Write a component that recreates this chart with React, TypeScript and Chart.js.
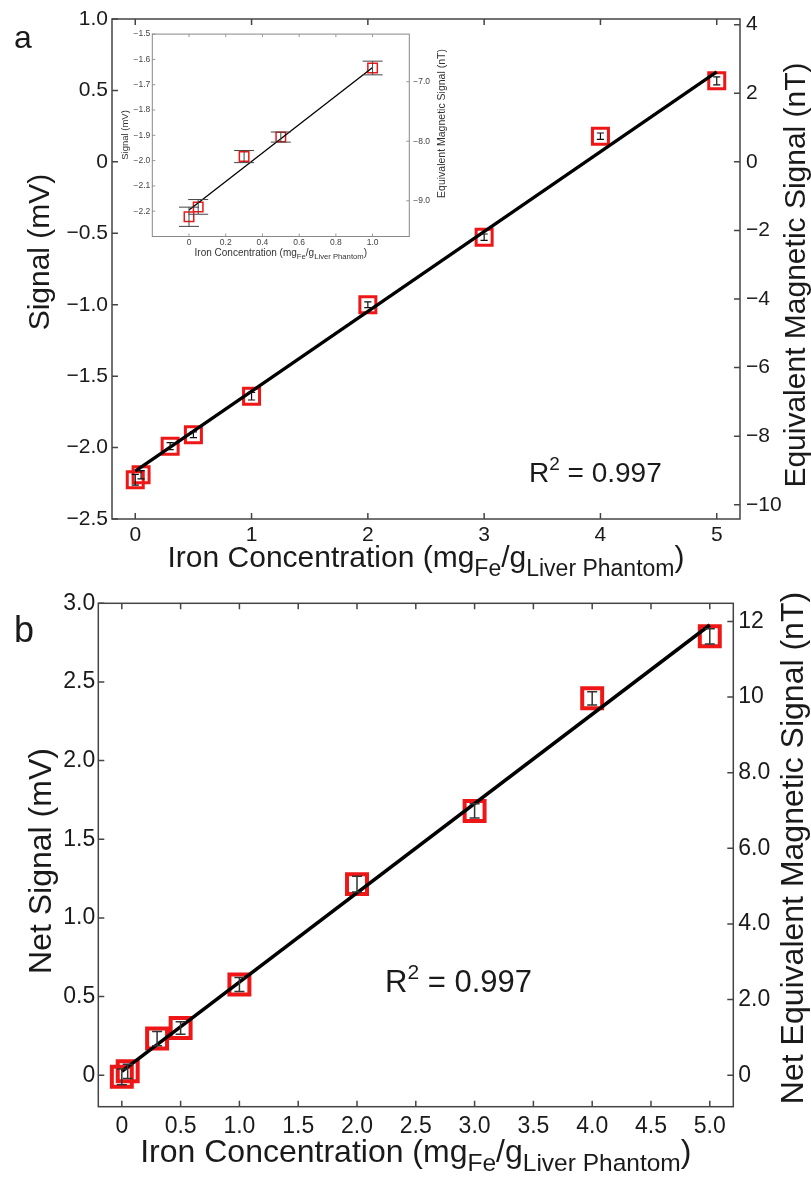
import React, { useEffect, useRef } from "react";
import { Chart, registerables } from "chart.js";
Chart.register(...registerables);

const FONT = '"Liberation Sans", Arial, Helvetica, sans-serif';
const RED = "rgb(238,22,22)";

// ---------- Panel a ----------
const ironA = [0, 0.05, 0.3, 0.5, 1, 2, 3, 4, 5];
const signalA = [-2.225, -2.19, -1.99, -1.91, -1.64, -1.0, -0.527, 0.18, 0.567];
const errA = [0.038, 0.029, 0.024, 0.02, 0.027, 0.02, 0.022, 0.022, 0.028];
const fitAX = [0, 5];
const fitAY = [-2.165, 0.63];
const aXTicks = [0, 1, 2, 3, 4, 5];
const aXLabels = ["0", "1", "2", "3", "4", "5"];
const aYTicks = [1.0, 0.5, 0, -0.5, -1.0, -1.5, -2.0, -2.5];
const aYLabels = ["1.0", "0.5", "0", "−0.5", "−1.0", "−1.5", "−2.0", "−2.5"];
const aY2Ticks = [4, 2, 0, -2, -4, -6, -8, -10];
const aY2Labels = ["4", "2", "0", "−2", "−4", "−6", "−8", "−10"];

// ---------- Inset ----------
const insetIron = [0, 0.05, 0.3, 0.5, 1.0];
const insetSignal = [-2.222, -2.183, -1.984, -1.907, -1.634];
const insetErr = [0.038, 0.029, 0.024, 0.02, 0.027];
const fitInsetX = [0, 1.0];
const fitInsetY = [-2.195, -1.632];
const insetXTicks = [0, 0.2, 0.4, 0.6, 0.8, 1.0];
const insetXLabels = ["0", "0.2", "0.4", "0.6", "0.8", "1.0"];
const insetYTicks = [-1.5, -1.6, -1.7, -1.8, -1.9, -2.0, -2.1, -2.2];
const insetYLabels = ["−1.5", "−1.6", "−1.7", "−1.8", "−1.9", "−2.0", "−2.1", "−2.2"];
const insetY2Ticks = [-7, -8, -9];
const insetY2Labels = ["−7.0", "−8.0", "−9.0"];

// ---------- Panel b ----------
const ironB = [0, 0.05, 0.3, 0.5, 1, 2, 3, 4, 5];
const netSignalB = [-0.01, 0.025, 0.233, 0.3, 0.577, 1.215, 1.68, 2.396, 2.79];
const errB = [0.05, 0.045, 0.045, 0.04, 0.045, 0.05, 0.045, 0.042, 0.048];
const fitBX = [0, 5];
const fitBY = [0.025, 2.862];
const bXTicks = [0, 0.5, 1.0, 1.5, 2.0, 2.5, 3.0, 3.5, 4.0, 4.5, 5.0];
const bXLabels = ["0", "0.5", "1.0", "1.5", "2.0", "2.5", "3.0", "3.5", "4.0", "4.5", "5.0"];
const bYTicks = [0, 0.5, 1.0, 1.5, 2.0, 2.5, 3.0];
const bYLabels = ["0", "0.5", "1.0", "1.5", "2.0", "2.5", "3.0"];
const bY2Ticks = [0, 2, 4, 6, 8, 10, 12];
const bY2Labels = ["0", "2.0", "4.0", "6.0", "8.0", "10", "12"];

type Part = { t: string; s: number; dy: number };

function drawRich(ctx: CanvasRenderingContext2D, parts: Part[], x: number, y: number, align: "center" | "left") {
  let w = 0;
  parts.forEach((p) => {
    ctx.font = `${p.s}px ${FONT}`;
    w += ctx.measureText(p.t).width;
  });
  let cx = align === "center" ? x - w / 2 : x;
  ctx.textAlign = "left";
  ctx.textBaseline = "alphabetic";
  parts.forEach((p) => {
    ctx.font = `${p.s}px ${FONT}`;
    ctx.fillText(p.t, cx, y + p.dy);
    cx += ctx.measureText(p.t).width;
  });
}

function drawVertical(ctx: CanvasRenderingContext2D, text: string, size: number, x: number, y: number) {
  ctx.save();
  ctx.translate(x, y);
  ctx.rotate(-Math.PI / 2);
  ctx.font = `${size}px ${FONT}`;
  ctx.textAlign = "center";
  ctx.textBaseline = "alphabetic";
  ctx.fillText(text, 0, 0);
  ctx.restore();
}

type Spec = {
  padTop: number; leftW: number; rightW: number; bottomH: number;
  xMin: number; xMax: number; xTicks: number[]; xLabels: string[];
  yMin: number; yMax: number; yTicks: number[]; yLabels: string[];
  y2Min: number; y2Max: number; y2Ticks: number[]; y2Labels: string[];
  tickFont: number; tickColor: string; padX: number; padY: number; padY2: number;
  xs: number[]; ys: number[]; err: number[]; fitX: number[]; fitY: number[];
  markerR: number; markerW: number; lineW: number;
  frameColor: string; frameW: number; tickLen: number; tickMarkColor: string;
  errColor: string; errW: number; capHalf: number;
  texts: (ctx: CanvasRenderingContext2D, chart: any) => void;
};

function makeConfig(s: Spec): any {
  const decor = {
    id: "decor",
    afterDatasetsDraw(chart: any) {
      const ctx = chart.ctx as CanvasRenderingContext2D;
      const xs = chart.scales.x, ys = chart.scales.y;
      ctx.save();
      ctx.strokeStyle = s.errColor;
      ctx.lineWidth = s.errW;
      s.xs.forEach((xv, i) => {
        const px = xs.getPixelForValue(xv);
        const top = ys.getPixelForValue(s.ys[i] + s.err[i]);
        const bot = ys.getPixelForValue(s.ys[i] - s.err[i]);
        ctx.beginPath();
        ctx.moveTo(px, top); ctx.lineTo(px, bot);
        ctx.moveTo(px - s.capHalf, top); ctx.lineTo(px + s.capHalf, top);
        ctx.moveTo(px - s.capHalf, bot); ctx.lineTo(px + s.capHalf, bot);
        ctx.stroke();
      });
      ctx.restore();
    },
    afterDraw(chart: any) {
      const ctx = chart.ctx as CanvasRenderingContext2D;
      const a = chart.chartArea;
      const xs = chart.scales.x, ys = chart.scales.y, y2 = chart.scales.y2;
      ctx.save();
      ctx.strokeStyle = s.tickMarkColor;
      ctx.lineWidth = s.frameW;
      ctx.beginPath();
      s.xTicks.forEach((v) => {
        const px = xs.getPixelForValue(v);
        ctx.moveTo(px, a.bottom); ctx.lineTo(px, a.bottom - s.tickLen);
        ctx.moveTo(px, a.top); ctx.lineTo(px, a.top + s.tickLen);
      });
      s.yTicks.forEach((v) => {
        const py = ys.getPixelForValue(v);
        ctx.moveTo(a.left, py); ctx.lineTo(a.left + s.tickLen, py);
      });
      s.y2Ticks.forEach((v) => {
        const py = y2.getPixelForValue(v);
        ctx.moveTo(a.right, py); ctx.lineTo(a.right - s.tickLen, py);
      });
      ctx.stroke();
      ctx.strokeStyle = s.frameColor;
      ctx.strokeRect(a.left, a.top, a.right - a.left, a.bottom - a.top);
      ctx.fillStyle = "#1a1a1a";
      s.texts(ctx, chart);
      ctx.restore();
    },
  };
  const tickOpts = (labels: string[], pad: number) => ({
    callback: (_v: any, i: number) => labels[i],
    padding: pad,
    font: { size: s.tickFont, family: FONT },
    color: s.tickColor,
    maxRotation: 0,
    autoSkip: false,
  });
  return {
    type: "scatter",
    data: {
      datasets: [
        {
          label: "fit",
          data: s.fitX.map((x, i) => ({ x, y: s.fitY[i] })),
          showLine: true,
          borderColor: "#000",
          borderWidth: s.lineW,
          pointRadius: 0,
          fill: false,
          xAxisID: "x",
          yAxisID: "y",
        },
        {
          label: "data",
          data: s.xs.map((x, i) => ({ x, y: s.ys[i] })),
          showLine: false,
          pointStyle: "rect",
          pointRadius: s.markerR,
          borderWidth: s.markerW,
          borderColor: RED,
          backgroundColor: "rgba(0,0,0,0)",
          xAxisID: "x",
          yAxisID: "y",
        },
      ],
    },
    options: {
      animation: false,
      responsive: false,
      maintainAspectRatio: false,
      events: [],
      layout: { padding: { top: s.padTop, left: 0, right: 0, bottom: 0 } },
      plugins: { legend: { display: false }, tooltip: { enabled: false }, title: { display: false } },
      scales: {
        x: {
          type: "linear", position: "bottom", min: s.xMin, max: s.xMax,
          afterBuildTicks: (sc: any) => { sc.ticks = s.xTicks.map((v) => ({ value: v })); },
          afterFit: (sc: any) => { sc.height = s.bottomH; },
          grid: { display: false, drawTicks: false },
          border: { display: false },
          ticks: tickOpts(s.xLabels, s.padX),
        },
        y: {
          type: "linear", position: "left", min: s.yMin, max: s.yMax,
          afterBuildTicks: (sc: any) => { sc.ticks = s.yTicks.map((v) => ({ value: v })); },
          afterFit: (sc: any) => { sc.width = s.leftW; },
          grid: { display: false, drawTicks: false },
          border: { display: false },
          ticks: tickOpts(s.yLabels, s.padY),
        },
        y2: {
          type: "linear", position: "right", min: s.y2Min, max: s.y2Max,
          afterBuildTicks: (sc: any) => { sc.ticks = s.y2Ticks.map((v) => ({ value: v })); },
          afterFit: (sc: any) => { sc.width = s.rightW; },
          grid: { display: false, drawTicks: false },
          border: { display: false },
          ticks: tickOpts(s.y2Labels, s.padY2),
        },
      },
    },
    plugins: [decor],
  };
}

const specA: Spec = {
  padTop: 19, leftW: 112, rightW: 71, bottomH: 81,
  xMin: -0.2, xMax: 5.2, xTicks: aXTicks, xLabels: aXLabels,
  yMin: -2.5, yMax: 1.0, yTicks: aYTicks, yLabels: aYLabels,
  y2Min: -10.415, y2Max: 4.166, y2Ticks: aY2Ticks, y2Labels: aY2Labels,
  tickFont: 21, tickColor: "#1a1a1a", padX: 4, padY: 4, padY2: 6,
  xs: ironA, ys: signalA, err: errA, fitX: fitAX, fitY: fitAY,
  markerR: 11.3, markerW: 3, lineW: 3.3,
  frameColor: "#444", frameW: 1.5, tickLen: 6, tickMarkColor: "#444",
  errColor: "#111", errW: 1.2, capHalf: 3.6,
  texts: (ctx, chart) => {
    const a = chart.chartArea;
    ctx.font = `32px ${FONT}`;
    ctx.textAlign = "left";
    ctx.textBaseline = "alphabetic";
    ctx.fillText("a", 14, 48);
    drawVertical(ctx, "Signal (mV)", 30, 48.5, 252);
    drawVertical(ctx, "Equivalent Magnetic Signal (nT)", 30, 804.5, 275);
    drawRich(ctx, [
      { t: "Iron Concentration (mg", s: 30, dy: 0 },
      { t: "Fe", s: 23, dy: 9 },
      { t: "/g", s: 30, dy: 0 },
      { t: "Liver Phantom", s: 23, dy: 9 },
      { t: ")", s: 30, dy: 0 },
    ], (a.left + a.right) / 2, 567, "center");
    drawRich(ctx, [
      { t: "R", s: 28, dy: 0 },
      { t: "2", s: 19, dy: -11.7 },
      { t: " = 0.997", s: 28, dy: 0 },
    ], 529, 481.7, "left");
  },
};

const specInset: Spec = {
  padTop: 6.7, leftW: 34.3, rightW: 48.7, bottomH: 28.5,
  xMin: -0.2, xMax: 1.2, xTicks: insetXTicks, xLabels: insetXLabels,
  yMin: -2.3, yMax: -1.5, yTicks: insetYTicks, yLabels: insetYLabels,
  y2Min: -9.6, y2Max: -6.2, y2Ticks: insetY2Ticks, y2Labels: insetY2Labels,
  tickFont: 8.5, tickColor: "#444", padX: 1, padY: 2, padY2: 4,
  xs: insetIron, ys: insetSignal, err: insetErr, fitX: fitInsetX, fitY: fitInsetY,
  markerR: 6.7, markerW: 1.5, lineW: 1.3,
  frameColor: "#888", frameW: 1, tickLen: 3, tickMarkColor: "#999",
  errColor: "#444", errW: 1, capHalf: 10,
  texts: (ctx, chart) => {
    const a = chart.chartArea;
    ctx.fillStyle = "#333";
    drawVertical(ctx, "Signal (mV)", 9.5, 10, 110);
    drawVertical(ctx, "Equivalent Magnetic Signal (nT)", 10.5, 327, 98.5);
    drawRich(ctx, [
      { t: "Iron Concentration (mg", s: 10, dy: 0 },
      { t: "Fe", s: 7.7, dy: 3 },
      { t: "/g", s: 10, dy: 0 },
      { t: "Liver Phantom", s: 7.7, dy: 3 },
      { t: ")", s: 10, dy: 0 },
    ], (a.left + a.right) / 2, 231, "center");
  },
};

const specB: Spec = {
  padTop: 23.3, leftW: 98.3, rightW: 77.7, bottomH: 70.3,
  xMin: -0.2, xMax: 5.2, xTicks: bXTicks, xLabels: bXLabels,
  yMin: -0.2, yMax: 3.0, yTicks: bYTicks, yLabels: bYLabels,
  y2Min: -0.832, y2Max: 12.48, y2Ticks: bY2Ticks, y2Labels: bY2Labels,
  tickFont: 23, tickColor: "#1a1a1a", padX: 6, padY: 3, padY2: 5,
  xs: ironB, ys: netSignalB, err: errB, fitX: fitBX, fitY: fitBY,
  markerR: 14.1, markerW: 4, lineW: 3.5,
  frameColor: "#444", frameW: 1.5, tickLen: 6, tickMarkColor: "#444",
  errColor: "#333", errW: 1.5, capHalf: 5,
  texts: (ctx, chart) => {
    const a = chart.chartArea;
    ctx.font = `36px ${FONT}`;
    ctx.textAlign = "left";
    ctx.textBaseline = "alphabetic";
    ctx.fillText("b", 14, 62);
    drawVertical(ctx, "Net Signal (mV)", 32, 51, 281);
    drawVertical(ctx, "Net Equivalent Magnetic Signal (nT)", 32, 803, 268);
    drawRich(ctx, [
      { t: "Iron Concentration (mg", s: 32, dy: 0 },
      { t: "Fe", s: 24.5, dy: 9.5 },
      { t: "/g", s: 32, dy: 0 },
      { t: "Liver Phantom", s: 24.5, dy: 9.5 },
      { t: ")", s: 32, dy: 0 },
    ], (a.left + a.right) / 2, 581.7, "center");
    drawRich(ctx, [
      { t: "R", s: 31, dy: 0 },
      { t: "2", s: 21, dy: -13 },
      { t: " = 0.997", s: 31, dy: 0 },
    ], 385, 411.7, "left");
  },
};

export default function App() {
  const refA = useRef<HTMLCanvasElement>(null);
  const refI = useRef<HTMLCanvasElement>(null);
  const refB = useRef<HTMLCanvasElement>(null);
  useEffect(() => {
    const charts: Chart[] = [];
    if (refA.current) charts.push(new Chart(refA.current, makeConfig(specA)));
    if (refB.current) charts.push(new Chart(refB.current, makeConfig(specB)));
    if (refI.current) charts.push(new Chart(refI.current, makeConfig(specInset)));
    return () => charts.forEach((c) => c.destroy());
  }, []);
  return (
    <div style={{ position: "absolute", left: 0, top: 0, width: 811, height: 1177, background: "#fff", overflow: "hidden" }}>
      <canvas ref={refA} width={811} height={600} style={{ position: "absolute", left: 0, top: 0, width: 811, height: 600 }} />
      <canvas ref={refB} width={811} height={597} style={{ position: "absolute", left: 0, top: 580, width: 811, height: 597 }} />
      <canvas ref={refI} width={340} height={240} style={{ position: "absolute", left: 118, top: 25, width: 340, height: 240 }} />
    </div>
  );
}
